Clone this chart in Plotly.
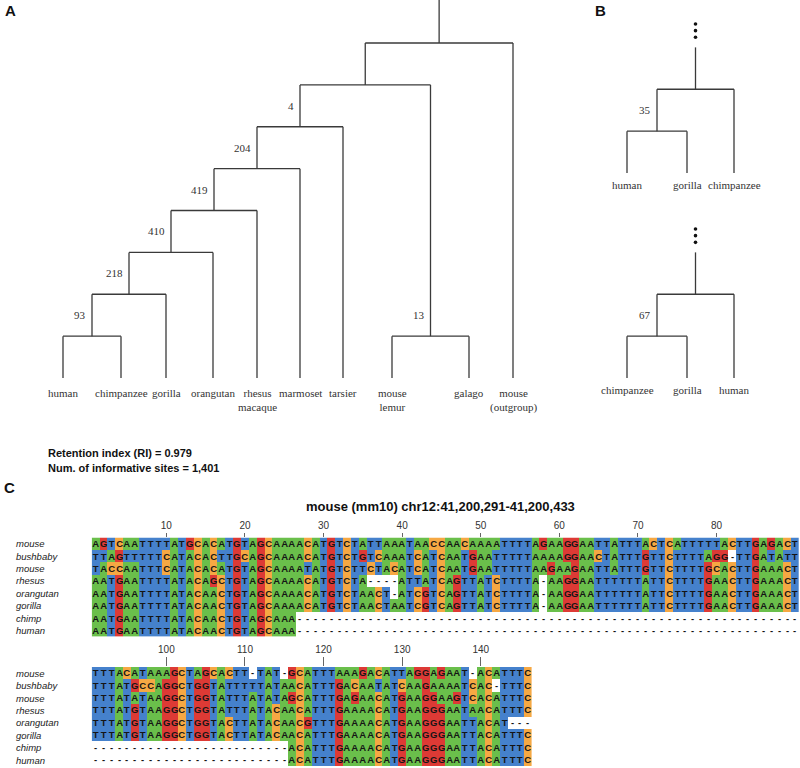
import plotly.graph_objects as go

# ===================== DATA =====================
ROW_NAMES = ["mouse", "bushbaby", "mouse", "rhesus", "orangutan", "gorilla", "chimp", "human"]

BLOCK1 = [
    "AGTCAATTTTATGCACATGTAGC" "AAAACATGTCTATTAAATAACCAACAAAATT" "TTAGAAGGAATTATTTACTCATTTTTACTTGAGACT",
    "TTAGTTTTTCATACACTTGCAGC" "AAAACATGTCTGTCAAATCATCAATGAATTT" "TTAAAAGGAACTATTTGTTCTTTTAGG-TTGATATT",
    "TACCAATTTCATACACATGTAGC" "AAAATATGTCTTCTACATCATCAATGAATTT" "TTAAGAAGAATTATTTGTTCTTTTGCACTTGAAACT",
    "AATGAATTTTATACAGCTGTAGC" "AAAACATGTCTA----ATTATCAGTTATCTT" "TTA-AAGGAATTTTTTATTCTTTTGAACTTGAAACT",
    "AATGAATTTTATACAACTGTAGC" "AAAACATGTCTAACT-ATCGTCAGTTATCTT" "TTA-AAGGAATTTTTTATTCTTTTGAACTTGAAACT",
    "AATGAATTTTATACAACTGTAGC" "AAAACATGTCTAACTAATCGTCAGTTATCTT" "TTA-AAGGAATTTTTTATTCTTTTGAACTTGAAACT",
    "AATGAATTTTATACAACTGTAGCAAA" "--------" "--------" "--------" "--------" "--------" "--------" "--------" "--------",
    "AATGAATTTTATACAACTGTAGCAAA" "--------" "--------" "--------" "--------" "--------" "--------" "--------" "--------",
]
BLOCK2 = [
    "TTTACATAAAGCTAGCACTT-TAT-GCATTTAAAGACATTAGGAGAAT-ACATTTC",
    "TTTATGCCAGGCTGGTATTTTTATAACATTTGACAATATCAAGAAAATCAC-TTTC",
    "TTTATATAAGGCTGGTATTTATATAGCATTTGAGAACATGAAGGAAGTCACATTTC",
    "TTTATGTAAGGCTGGTATTTATACAACATTTGAAAACATGAAGGGAATAACATTTC",
    "TTTATGTAAGGCTGGTACTTATACAACGTTTGAAAACATGAAGGGAATTACAT---",
    "TTTATGTAAGGCTGGTACTTATACAACATTTGAAAACATGAAGGGAATTACATTTC",
    "--------" "--------" "--------" "-" "ACATTTGAAAACATGAAGGGAATTACATTTC",
    "--------" "--------" "--------" "-" "ACATTTGAAAACATGAAGGGAATTACATTTC",
]
assert all(len(s) == 90 for s in BLOCK1), [len(s) for s in BLOCK1]
assert all(len(s) == 56 for s in BLOCK2), [len(s) for s in BLOCK2]

TICKS1 = [10, 20, 30, 40, 50, 60, 70, 80]
TICKS2 = [100, 110, 120, 130, 140]

# trees: (left, right, support)
N93 = ("human", "chimpanzee", 93)
N218 = (N93, "gorilla", 218)
N410 = (N218, "orangutan", 410)
N419 = (N410, "rhesus<br>macaque", 419)
N204 = (N419, "marmoset", 204)
N4 = (N204, "tarsier", 4)
N13 = ("mouse<br>lemur", "galago", 13)
TREE_A = ((N4, N13, None), "mouse<br>(outgroup)", None)
TREE_B_TOP = (("human", "gorilla", 35), "chimpanzee", None)
TREE_B_BOT = (("chimpanzee", "gorilla", 67), "human", None)

RI_TEXT = "Retention index (RI) = 0.979"
SITES_TEXT = "Num. of informative sites = 1,401"
ALIGN_TITLE = "mouse (mm10) chr12:41,200,291-41,200,433"

# ===================== LAYOUT / STYLE =====================
W, H = 800, 768
SANS = "Liberation Sans, Arial, sans-serif"
SERIF = "Liberation Serif, Times New Roman, serif"
LINE_COL = "#3a3a3a"
TXT_COL = "#333333"
TREE_FONT = 11

BASE_COLORS = {"A": "#6abf4b", "C": "#f6a843", "G": "#dd3a35", "T": "#4581cc", "-": "#ffffff"}
BASE_CODE = {"A": 0, "C": 1, "G": 2, "T": 3, "-": 4}

# leaf horizontal positions (pixel units of the tree axis)
LEAF_X_A = [63, 121, 166, 213, 257, 300, 343, 392, 469, 513]
LEAF_X_B = [627, 687, 734]
LEVEL_PX = 41.875
A_BASE = 378.0
BTOP_BASE = 173.0

CELL_W = 7.86
ALN_X0 = 91.7
ROW_H = 12.4
B1_TOP = 537.5
B2_TOP = 667.0

fig = go.Figure()


# ---------- alignment heatmaps ----------
def add_block(seqs, first_col, xa, ya):
    ncol = len(seqs[0])
    cols = list(range(first_col, first_col + ncol))
    z = [[BASE_CODE[c] for c in s] for s in seqs]
    txt = [list(s) for s in seqs]
    cs = []
    order = ["A", "C", "G", "T", "-"]
    for i, b in enumerate(order):
        cs.append([i / 5, BASE_COLORS[b]])
        cs.append([(i + 1) / 5, BASE_COLORS[b]])
    fig.add_trace(go.Heatmap(
        z=z, x=cols, y=list(range(len(seqs))), text=txt, texttemplate="%{text}",
        textfont=dict(family=SANS, size=9.5, color="#151515", weight="bold"),
        colorscale=cs, zmin=-0.5, zmax=4.5, showscale=False, hoverinfo="skip",
        xgap=0, ygap=0, xaxis=xa, yaxis=ya))


add_block(BLOCK1, 1, "x", "y")
add_block(BLOCK2, 91, "x2", "y2")


# ---------- trees ----------
def build(node, pos_iter, out):
    if isinstance(node, str):
        x = next(pos_iter)
        out["leaves"].append((x, node))
        return x, 0
    left, right, support = node
    xl, ll = build(left, pos_iter, out)
    xr, lr = build(right, pos_iter, out)
    lev = max(ll, lr) + 1
    out["segs"] += [((xl, ll), (xl, lev)), ((xr, lr), (xr, lev)), ((xl, lev), (xr, lev))]
    x = (xl + xr) / 2
    if support is not None:
        out["support"].append((x, lev, support))
    return x, lev


def add_tree(tree, leaf_x, ya, stem_top, dots, label_shift):
    out = {"leaves": [], "segs": [], "support": []}
    rx, rl = build(tree, iter(leaf_x), out)
    out["segs"].append(((rx, rl), (rx, stem_top)))
    xs, ys = [], []
    for (a, b) in out["segs"]:
        xs += [a[0], b[0], None]
        ys += [a[1], b[1], None]
    fig.add_trace(go.Scatter(x=xs, y=ys, mode="lines", line=dict(color=LINE_COL, width=1.3),
                             hoverinfo="skip", xaxis="x3", yaxis=ya, showlegend=False))
    if dots:
        fig.add_trace(go.Scatter(x=[rx] * len(dots), y=dots, mode="markers",
                                 marker=dict(color="#111", size=3.6), hoverinfo="skip",
                                 xaxis="x3", yaxis=ya, showlegend=False))
    for x, name in out["leaves"]:
        fig.add_annotation(x=x, y=0, xref="x3", yref=ya, text=name, showarrow=False,
                           yanchor="top", yshift=label_shift,
                           font=dict(family=SERIF, size=TREE_FONT, color=TXT_COL))
    for x, lev, s in out["support"]:
        fig.add_annotation(x=x, y=lev + 0.5, xref="x3", yref=ya, text=str(s), showarrow=False,
                           xanchor="right", xshift=-4, yanchor="middle",
                           font=dict(family=SERIF, size=TREE_FONT, color=TXT_COL))


add_tree(TREE_A, LEAF_X_A, "y3", 9.2, None, -7)
add_tree(TREE_B_TOP, LEAF_X_B, "y4", 3.0, [3.24, 3.40, 3.56], -4)
add_tree(TREE_B_BOT, LEAF_X_B, "y3", 3.0, [3.24, 3.40, 3.56], -4)


# ---------- axes ----------
def ydom(top, nrows):
    return [1 - (top + nrows * ROW_H) / H, 1 - top / H]


tickfont = dict(family=SANS, size=10, color="#333")
fig.update_layout(
    width=W, height=H, margin=dict(l=0, r=0, t=0, b=0),
    paper_bgcolor="white", plot_bgcolor="rgba(0,0,0,0)", showlegend=False,
    xaxis=dict(domain=[ALN_X0 / W, (ALN_X0 + 90 * CELL_W) / W], range=[0.5, 90.5], side="top",
               anchor="y", tickmode="array", tickvals=TICKS1, ticks="outside", ticklen=4,
               tickcolor="#666", tickwidth=1, tickfont=tickfont, showgrid=False, zeroline=False,
               showline=False),
    yaxis=dict(domain=ydom(B1_TOP, 8), range=[7.5, -0.5], visible=False, anchor="x"),
    xaxis2=dict(domain=[ALN_X0 / W, (ALN_X0 + 56 * CELL_W) / W], range=[90.5, 146.5], side="top",
                anchor="y2", tickmode="array", tickvals=TICKS2, ticks="outside", ticklen=9,
                tickcolor="#666", tickwidth=1, tickfont=tickfont, showgrid=False, zeroline=False,
                showline=False),
    yaxis2=dict(domain=ydom(B2_TOP, 8), range=[7.5, -0.5], visible=False, anchor="x2"),
    xaxis3=dict(domain=[0, 1], range=[0, W], visible=False, anchor="y3"),
    yaxis3=dict(domain=[0, 1], range=[(A_BASE - H) / LEVEL_PX, A_BASE / LEVEL_PX],
                visible=False, anchor="x3"),
    yaxis4=dict(domain=[0, 1], range=[(BTOP_BASE - H) / LEVEL_PX, BTOP_BASE / LEVEL_PX],
                visible=False, anchor="x3", overlaying="y3"),
)

# ---------- row labels ----------
for ya in ["y", "y2"]:
    for i, name in enumerate(ROW_NAMES):
        fig.add_annotation(x=14 / W, y=i, xref="paper", yref=ya, text="<i>" + name + "</i>",
                           showarrow=False, xanchor="left", yanchor="middle",
                           font=dict(family=SANS, size=9.5, color="#222"))


# ---------- text annotations ----------
def ptext(x, y, text, size, anchor="left", bold=True, family=SANS, color="#111"):
    fig.add_annotation(x=x / W, y=1 - y / H, xref="paper", yref="paper",
                       text=("<b>%s</b>" % text) if bold else text, showarrow=False,
                       xanchor=anchor, yanchor="middle", font=dict(family=family, size=size, color=color))


ptext(3, 11, "A", 15)
ptext(593, 11, "B", 15)
ptext(2, 487, "C", 15)
ptext(46, 453, RI_TEXT, 11)
ptext(46, 468, SITES_TEXT, 11)
ptext(440, 506, ALIGN_TITLE, 13, anchor="center")

fig.write_html(
    "out.html",
    config={"displayModeBar": False},
    post_script="document.body.style.margin='0px';document.body.style.overflow='hidden';",
)
